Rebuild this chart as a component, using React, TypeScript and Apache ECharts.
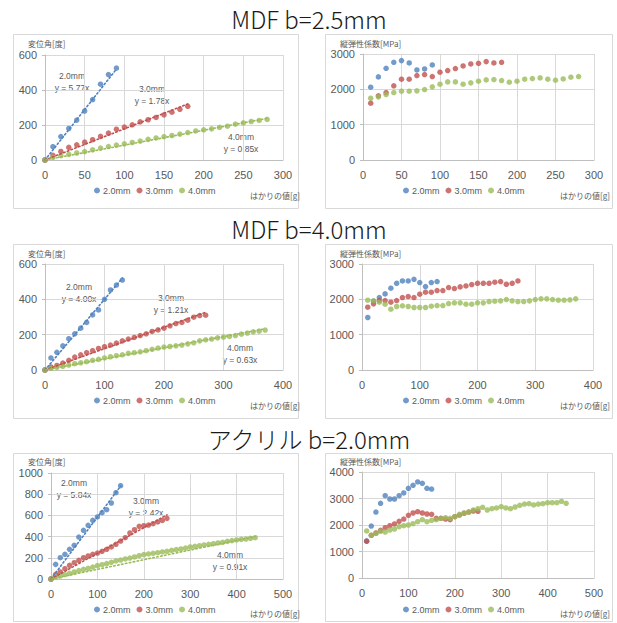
import React, { useEffect, useRef } from "react";
import * as echarts from "echarts";

const SERIES_NAMES = ["2.0mm", "3.0mm", "4.0mm"];
const COLORS = ["#4F81BD", "#C0504D", "#9BBB59"];
const LOAD_STEP = 10; // load increment [g]
const TITLES = ["MDF b=2.5mm", "MDF b=4.0mm", "アクリル b=2.0mm"];
const Y_NAME_DISP = "変位角[度]";
const Y_NAME_MOD = "縦弾性係数[MPa]";
const X_NAME = "はかりの値[g]";

// ---- MDF b=2.5mm : displacement angle (starts at load 0)
const mdf25Disp20 = [0, 76, 134, 180, 228, 280, 345, 433, 488, 525];
const mdf25Disp30 = [0, 27, 49, 72, 87, 102, 116, 135, 154, 176, 188, 201, 218, 230, 243, 258, 273, 290, 307];
const mdf25Disp40 = [0, 15, 25, 32, 40, 48, 58, 68, 77, 85, 92, 100, 108, 118, 126, 133, 140, 148, 157, 166, 172, 178, 187, 193, 205, 212, 220, 226, 232];
const mdf25Slopes = [5.77, 1.78, 0.85];
// ---- MDF b=2.5mm : modulus (starts at load 10)
const mdf25Mod20 = [2060, 2352, 2596, 2766, 2813, 2747, 2549, 2578, 2690];
const mdf25Mod30 = [1609, 1816, 1910, 2098, 2286, 2286, 2390, 2418, 2361, 2484, 2531, 2587, 2662, 2719, 2737, 2785, 2747, 2766];
const mdf25Mod40 = [1750, 1787, 1853, 1910, 1947, 1947, 1957, 1994, 2070, 2145, 2211, 2211, 2145, 2183, 2230, 2267, 2277, 2248, 2201, 2230, 2286, 2305, 2324, 2286, 2258, 2295, 2343, 2361];

// ---- MDF b=4.0mm : displacement angle
const mdf40Disp20 = [0, 68, 100, 137, 177, 205, 237, 269, 312, 340, 400, 453, 481, 509];
const mdf40Disp30 = [0, 17, 26, 39, 55, 73, 86, 98, 109, 122, 132, 141, 152, 165, 175, 184, 195, 205, 218, 227, 237, 250, 263, 269, 282, 299, 308, 310];
const mdf40Disp40 = [0, 9, 15, 21, 28, 36, 41, 47, 55, 60, 68, 75, 81, 86, 94, 98, 103, 109, 117, 124, 130, 133, 137, 141, 148, 154, 165, 171, 175, 182, 186, 190, 195, 203, 209, 216, 220, 226];
const mdf40Slopes = [4.0, 1.21, 0.63];
// ---- MDF b=4.0mm : modulus
const mdf40Mod20 = [1486, 1950, 2050, 2154, 2314, 2455, 2521, 2521, 2568, 2474, 2361, 2474, 2502];
const mdf40Mod30 = [1778, 1872, 1966, 1966, 1919, 1966, 2050, 2079, 2050, 2145, 2201, 2201, 2248, 2248, 2333, 2305, 2352, 2380, 2418, 2455, 2455, 2455, 2484, 2502, 2427, 2455, 2521];
const mdf40Mod40 = [1975, 1957, 1919, 1863, 1722, 1797, 1816, 1797, 1769, 1769, 1769, 1806, 1825, 1825, 1881, 1900, 1900, 1863, 1863, 1900, 1900, 1938, 1947, 1957, 1994, 1957, 1938, 1938, 1957, 1994, 2013, 2013, 1994, 1975, 1975, 1985, 2013];

// ---- Acrylic b=2.0mm : displacement angle
const acrDisp20 = [0, 138, 201, 233, 280, 318, 396, 459, 506, 553, 585, 626, 654, 717, 814, 880];
const acrDisp30 = [0, 44, 66, 97, 129, 154, 176, 201, 217, 233, 245, 261, 280, 302, 327, 358, 390, 434, 465, 497, 503, 509, 522, 538, 553, 572];
const acrDisp40 = [0, 19, 28, 41, 53, 66, 79, 91, 101, 113, 126, 135, 145, 157, 170, 179, 189, 198, 208, 220, 230, 236, 242, 248, 255, 261, 270, 277, 283, 292, 302, 308, 314, 321, 327, 333, 340, 346, 355, 362, 368, 374, 377, 384, 390];
const acrSlopes = [5.84, 2.42, 0.91];
// ---- Acrylic b=2.0mm : modulus
const acrMod20 = [1400, 1962, 2490, 2818, 3107, 2981, 2981, 3107, 3208, 3384, 3497, 3623, 3572, 3384, 3358];
const acrMod30 = [1384, 1610, 1698, 1799, 1899, 1975, 2038, 2138, 2226, 2365, 2453, 2503, 2453, 2415, 2403, 2252, 2252, 2226, 2201, 2314, 2377, 2440, 2490, 2528, 2516];
const acrMod40 = [1774, 1610, 1686, 1761, 1736, 1811, 1849, 1937, 1975, 2000, 2050, 2126, 2201, 2126, 2176, 2201, 2252, 2277, 2252, 2314, 2403, 2453, 2490, 2566, 2616, 2667, 2566, 2616, 2642, 2692, 2642, 2616, 2679, 2742, 2792, 2805, 2755, 2792, 2805, 2843, 2843, 2843, 2893, 2818];

// axis ranges: [xMax, xInterval, yMax, yInterval]
const AXES = [
  [300, 50, 600, 200],
  [300, 50, 3000, 1000],
  [400, 100, 600, 200],
  [400, 100, 3000, 1000],
  [500, 100, 1000, 200],
  [500, 100, 4000, 1000],
];

const PANELS = [
  { kind: "disp", start: 0, data: [mdf25Disp20, mdf25Disp30, mdf25Disp40], slopes: mdf25Slopes },
  { kind: "mod", start: 10, data: [mdf25Mod20, mdf25Mod30, mdf25Mod40] },
  { kind: "disp", start: 0, data: [mdf40Disp20, mdf40Disp30, mdf40Disp40], slopes: mdf40Slopes },
  { kind: "mod", start: 10, data: [mdf40Mod20, mdf40Mod30, mdf40Mod40] },
  { kind: "disp", start: 0, data: [acrDisp20, acrDisp30, acrDisp40], slopes: acrSlopes },
  { kind: "mod", start: 10, data: [acrMod20, acrMod30, acrMod40] },
];

// layout (pixels)
const GRIDS = [
  { left: 45, top: 55, width: 238, height: 105 },
  { left: 363, top: 54, width: 231, height: 106 },
  { left: 45, top: 264, width: 238, height: 106 },
  { left: 362, top: 264, width: 231, height: 106 },
  { left: 51, top: 473, width: 232, height: 106 },
  { left: 362, top: 472, width: 232, height: 106 },
];
const FRAMES = [
  { x: 13, y: 34, w: 285, h: 174 },
  { x: 325, y: 34, w: 287, h: 174 },
  { x: 13, y: 244, w: 285, h: 174 },
  { x: 325, y: 244, w: 287, h: 174 },
  { x: 13, y: 453, w: 285, h: 168 },
  { x: 325, y: 453, w: 287, h: 168 },
];
const TITLE_Y = [18, 228, 438];
const LEGEND_POS = [
  { left: 94, top: 186 },
  { left: 403, top: 186 },
  { left: 94, top: 396 },
  { left: 403, top: 396 },
  { left: 94, top: 605 },
  { left: 403, top: 605 },
];
const YNAME_POS = [
  { x: 28, y: 43 }, { x: 340, y: 43 },
  { x: 28, y: 253 }, { x: 340, y: 253 },
  { x: 28, y: 461 }, { x: 340, y: 461 },
];
const XNAME_POS = [
  { x: 250, y: 195 }, { x: 560, y: 195 },
  { x: 250, y: 405 }, { x: 560, y: 405 },
  { x: 250, y: 613 }, { x: 560, y: 613 },
];
// trend annotation positions (center x, top y) for panels 0, 2, 4
const ANNOT_POS: Record<number, { x: number; y: number }[]> = {
  0: [{ x: 72, y: 70 }, { x: 152, y: 83 }, { x: 241, y: 131 }],
  2: [{ x: 79, y: 281 }, { x: 171, y: 292 }, { x: 240, y: 342 }],
  4: [{ x: 74, y: 477 }, { x: 146, y: 495 }, { x: 230, y: 549 }],
};

const FONT = "'Liberation Sans', 'Noto Sans CJK JP', sans-serif";
const JP_FONT = "'Noto Sans CJK JP', sans-serif";

function toPoints(values: number[], start: number) {
  return values.map((v, i) => [start + i * LOAD_STEP, v]);
}

export default function App() {
  const ref = useRef<HTMLDivElement>(null);
  useEffect(() => {
    if (!ref.current) return;
    const chart = echarts.init(ref.current, undefined, { renderer: "svg" });

    const series: any[] = [];
    PANELS.forEach((p, pi) => {
      p.data.forEach((vals, si) => {
        series.push({
          type: "scatter",
          name: SERIES_NAMES[si],
          xAxisIndex: pi,
          yAxisIndex: pi,
          symbol: "circle",
          symbolSize: 5.5,
          itemStyle: { color: COLORS[si] },
          data: toPoints(vals, p.start),
        });
      });
      if (p.slopes) {
        p.data.forEach((vals, si) => {
          const xEnd = p.start + (vals.length - 1) * LOAD_STEP;
          series.push({
            type: "line",
            name: SERIES_NAMES[si] + " trend",
            xAxisIndex: pi,
            yAxisIndex: pi,
            showSymbol: false,
            symbol: "none",
            silent: true,
            z: 3,
            lineStyle: { color: COLORS[si], width: 1.6, type: [1.5, 2.5], cap: "round" },
            data: [
              [0, 0],
              [xEnd, p.slopes![si] * xEnd],
            ],
          });
        });
      }
    });

    const graphics: any[] = [];
    FRAMES.forEach((f) => {
      graphics.push({
        type: "rect",
        shape: { x: f.x + 0.5, y: f.y + 0.5, width: f.w, height: f.h },
        style: { fill: "none", stroke: "#d9d9d9", lineWidth: 1 },
        z: -10,
      });
    });
    TITLES.forEach((t, i) => {
      graphics.push({
        type: "text",
        x: 309,
        y: TITLE_Y[i],
        style: {
          text: t,
          font: `300 24px ${JP_FONT}`,
          fill: "#1a1a1a",
          textAlign: "center",
          textVerticalAlign: "middle",
        },
      });
    });
    PANELS.forEach((p, pi) => {
      graphics.push({
        type: "text",
        x: YNAME_POS[pi].x,
        y: YNAME_POS[pi].y,
        style: {
          text: p.kind === "disp" ? Y_NAME_DISP : Y_NAME_MOD,
          font: `8px ${JP_FONT}`,
          fill: "#595959",
          textVerticalAlign: "middle",
        },
      });
      graphics.push({
        type: "text",
        x: XNAME_POS[pi].x,
        y: XNAME_POS[pi].y,
        style: {
          text: X_NAME,
          font: `8px ${JP_FONT}`,
          fill: "#595959",
          textVerticalAlign: "middle",
        },
      });
      if (p.slopes) {
        p.slopes.forEach((s, si) => {
          const pos = ANNOT_POS[pi][si];
          graphics.push({
            type: "text",
            x: pos.x,
            y: pos.y,
            style: {
              text: `${SERIES_NAMES[si]}\ny = ${s.toFixed(2)}x`,
              font: `8.5px ${FONT}`,
              lineHeight: 12,
              fill: "#595959",
              textAlign: "center",
            },
          });
        });
      }
    });

    const axisLabel = {
      color: "#595959",
      fontSize: 11,
      fontFamily: FONT,
      formatter: (v: number) => String(v),
    };

    chart.setOption({
      animation: false,
      backgroundColor: "#ffffff",
      grid: GRIDS.map((g) => ({ ...g, containLabel: false })),
      xAxis: AXES.map((a, i) => ({
        type: "value",
        gridIndex: i,
        min: 0,
        max: a[0],
        interval: a[1],
        axisLine: { show: true, lineStyle: { color: "#bfbfbf" } },
        axisTick: { show: false },
        splitLine: { show: true, lineStyle: { color: "#d9d9d9" } },
        axisLabel: { ...axisLabel, margin: 9 },
      })),
      yAxis: AXES.map((a, i) => ({
        type: "value",
        gridIndex: i,
        min: 0,
        max: a[2],
        interval: a[3],
        axisLine: { show: true, lineStyle: { color: "#bfbfbf" } },
        axisTick: { show: true, length: 3, lineStyle: { color: "#bfbfbf" } },
        splitLine: { show: true, lineStyle: { color: "#d9d9d9" } },
        axisLabel: { ...axisLabel, margin: 8 },
      })),
      legend: LEGEND_POS.map((l) => ({
        data: SERIES_NAMES,
        left: l.left,
        top: l.top,
        icon: "circle",
        itemWidth: 6,
        itemHeight: 6,
        itemGap: 6,
        padding: 0,
        selectedMode: false,
        textStyle: { fontSize: 9, color: "#595959", fontFamily: FONT, padding: [0, 0, 0, -2] },
      })),
      graphic: graphics,
      series,
    });

    return () => chart.dispose();
  }, []);

  return <div ref={ref} style={{ width: 617, height: 623, position: "absolute", left: 0, top: 0 }} />;
}
